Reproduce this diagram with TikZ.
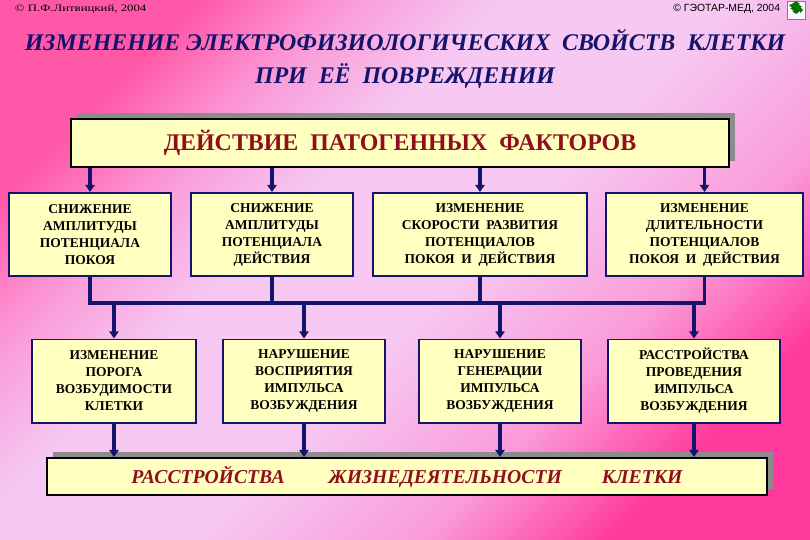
\documentclass[tikz,border=0pt]{standalone}
\usepackage{fontspec}
\setmainfont{Liberation Serif}
\newfontfamily\arialfont{Liberation Sans}
\usetikzlibrary{arrows.meta,positioning,shadows}

\definecolor{bgpink}{HTML}{FF58A8}
\definecolor{bgmid}{HTML}{FA9CD8}
\definecolor{bglight}{HTML}{F6C8F2}
\definecolor{bghot}{HTML}{FF3A9C}
\definecolor{navy}{HTML}{14146A}
\definecolor{boxfill}{HTML}{FFFFC0}
\definecolor{darkred}{HTML}{8E1020}

\pgfdeclarehorizontalshading{slidebg}{100bp}{color(0bp)=(bgpink); color(25bp)=(bgpink);
    color(33bp)=(bgmid); color(41bp)=(bglight); color(53bp)=(bglight); color(65bp)=(bgmid);
    color(75bp)=(bghot); color(100bp)=(bghot)}

\begin{document}
\begin{tikzpicture}[
        x=0.025cm, y=-0.025cm,
        every node/.style={font=\fontsize{9.6}{12.1}\selectfont\bfseries},
        effect/.style={
            draw=navy,
            line width=1.4pt,
            fill=boxfill,
            minimum height=2.075cm,
            align=center,
            inner sep=0pt
        },
        banner/.style={
            draw=black,
            line width=1.4pt,
            fill=boxfill,
            general shadow={fill=gray!90, shadow xshift=4.3pt, shadow yshift=4.3pt},
            align=center,
            inner sep=0pt
        },
        flow/.style={-{Triangle[length=5pt,width=6.5pt]}, navy, line width=2.2pt},
        link/.style={navy, line width=2.2pt}
    ]

        % background
        \shade[shading=slidebg, shading angle=-45] (0,0) rectangle (810,540);
        \useasboundingbox (0,0) rectangle (810,540);

        % heading
        \node[font=\fontsize{7}{8}\selectfont\addfontfeature{FakeStretch=1.3}, anchor=west] (authl) at (10,9)
            {© П.Ф.Литвицкий, 2004};
        \node[font=\fontsize{7.4}{8}\selectfont\arialfont, anchor=east] (authr) at (785,9) {© ГЭОТАР-МЕД, 2004};
        \node[draw=gray, fill=white!85!bglight, minimum size=0.45cm, inner sep=0pt] (icon) at (796,10) {};
        \fill[green!45!black] (icon.center) ++(-4,-6) -- ++(4,-3) -- ++(4,3) -- ++(-2,0) -- ++(4,3) -- ++(-2,0)
            -- ++(3,3) -- ++(-3,3) -- ++(0,-2) -- ++(-4,3) -- ++(-4,-3) -- ++(2,0) -- ++(-4,-3) -- ++(2,0) -- ++(-3,-3) -- cycle;

        \node[font=\fontsize{17}{24}\selectfont\bfseries\itshape, text=navy, align=center] (title) at (405,59)
            {ИЗМЕНЕНИЕ ЭЛЕКТРОФИЗИОЛОГИЧЕСКИХ\ \ СВОЙСТВ\ \ КЛЕТКИ\\ПРИ\ \ ЕЁ\ \ ПОВРЕЖДЕНИИ};

        % causes
        \node[banner, minimum width=16.45cm, minimum height=1.2cm, text=darkred,
              font=\fontsize{17}{18}\selectfont\bfseries] (top) at (400,143)
            {ДЕЙСТВИЕ\ \ ПАТОГЕННЫХ\ \ ФАКТОРОВ};

        \node[effect, minimum width=4.05cm]  (b1) at (90,234.5)  {СНИЖЕНИЕ\\АМПЛИТУДЫ\\ПОТЕНЦИАЛА\\ПОКОЯ};
        \node[effect, minimum width=4.05cm]  (b2) at (272,234.5) {СНИЖЕНИЕ\\АМПЛИТУДЫ\\ПОТЕНЦИАЛА\\ДЕЙСТВИЯ};
        \node[effect, minimum width=5.35cm]  (b3) at (480,234.5) {ИЗМЕНЕНИЕ\\СКОРОСТИ\ \ РАЗВИТИЯ\\ПОТЕНЦИАЛОВ\\ПОКОЯ\ \ И\ \ ДЕЙСТВИЯ};
        \node[effect, minimum width=4.925cm] (b4) at (704.5,234.5) {ИЗМЕНЕНИЕ\\ДЛИТЕЛЬНОСТИ\\ПОТЕНЦИАЛОВ\\ПОКОЯ\ \ И\ \ ДЕЙСТВИЯ};

        \node[effect, minimum width=4.1cm]  (c1) at (114,381) {ИЗМЕНЕНИЕ\\ПОРОГА\\ВОЗБУДИМОСТИ\\КЛЕТКИ};
        \node[effect, minimum width=4.05cm] (c2) at (304,381) {НАРУШЕНИЕ\\ВОСПРИЯТИЯ\\ИМПУЛЬСА\\ВОЗБУЖДЕНИЯ};
        \node[effect, minimum width=4.05cm] (c3) at (500,381) {НАРУШЕНИЕ\\ГЕНЕРАЦИИ\\ИМПУЛЬСА\\ВОЗБУЖДЕНИЯ};
        \node[effect, minimum width=4.3cm]  (c4) at (694,381) {РАССТРОЙСТВА\\ПРОВЕДЕНИЯ\\ИМПУЛЬСА\\ВОЗБУЖДЕНИЯ};

        \node[banner, minimum width=18cm, minimum height=0.925cm, text=darkred,
              font=\fontsize{14}{16}\selectfont\bfseries\itshape] (bottom) at (407,476.5)
            {РАССТРОЙСТВА\hspace{1.1cm}ЖИЗНЕДЕЯТЕЛЬНОСТИ\hspace{1cm}КЛЕТКИ};

        % connections
        \coordinate (bus) at (0,303);
        \foreach \b in {b1,b2,b3,b4}
            \draw[flow] (top.south -| \b) -- (\b.north);
        \draw[link] (b1.south) -- (b1.south |- bus) -- (b4.south |- bus) -- (b4.south);
        \draw[link] (b2.south) -- (b2.south |- bus);
        \draw[link] (b3.south) -- (b3.south |- bus);
        \foreach \c in {c1,c2,c3,c4} {
            \draw[flow] (\c.north |- bus) -- (\c.north);
            \draw[flow] (\c.south) -- (\c.south |- bottom.north);
        }

    \end{tikzpicture}
\end{document}
